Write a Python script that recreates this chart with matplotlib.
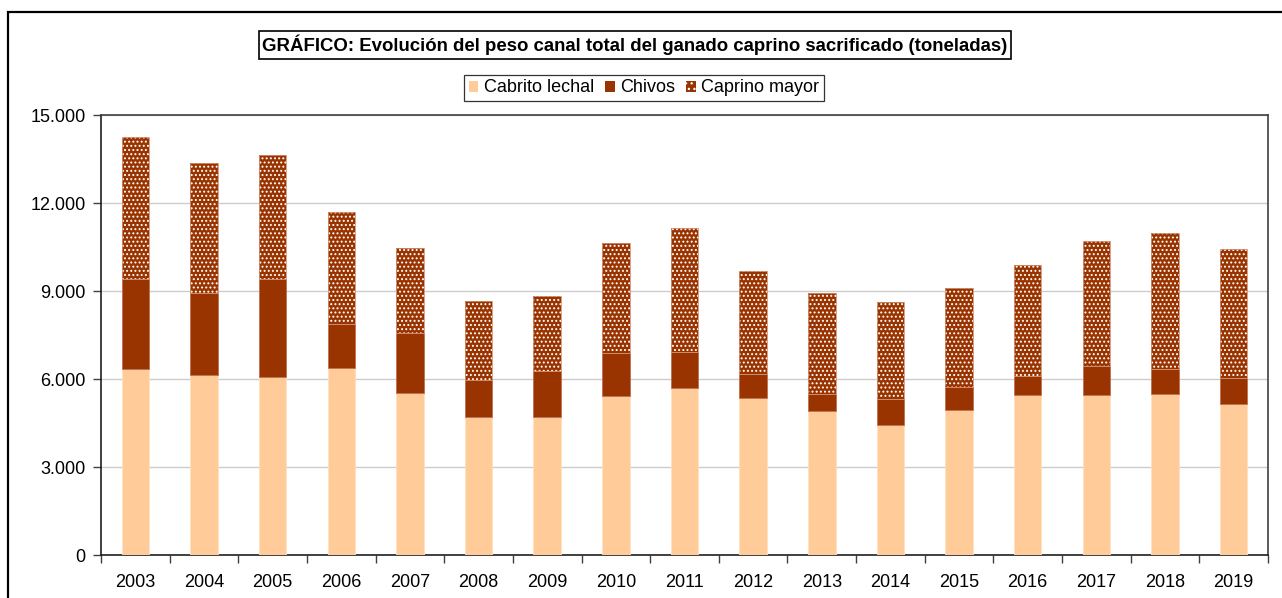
import matplotlib
matplotlib.use("Agg")
import matplotlib.pyplot as plt
from matplotlib.patches import Rectangle, Patch
from matplotlib.ticker import FuncFormatter, FixedLocator
import numpy as np

years = ["2003", "2004", "2005", "2006", "2007", "2008", "2009", "2010", "2011",
         "2012", "2013", "2014", "2015", "2016", "2017", "2018", "2019"]
cabrito = [6350, 6120, 6070, 6360, 5530, 4705, 4705, 5430, 5690, 5345, 4900, 4440,
           4943, 5450, 5455, 5500, 5136]
chivos_top = [9405, 8915, 9395, 7860, 7575, 5972, 6273, 6900, 6930, 6185, 5480, 5325,
              5735, 6110, 6450, 6352, 6045]
total = [14255, 13380, 13630, 11693, 10450, 8659, 8830, 10620, 11140, 9690, 8932, 8625,
         9110, 9900, 10720, 10970, 10420]
chivos = [t - c for t, c in zip(chivos_top, cabrito)]
caprino = [t - c for t, c in zip(total, chivos_top)]

plt.rcParams['font.family'] = ['Liberation Sans', 'DejaVu Sans']
plt.rcParams['hatch.linewidth'] = 0.9

fig = plt.figure(figsize=(12.82, 5.98), dpi=100)
ax = fig.add_axes([101/1282, 1-555/598, (1268-101)/1282, (555-115)/598])

x = np.arange(len(years))
w = 0.4
c_light = '#FFCC99'
c_dark = '#993300'
ax.bar(x, cabrito, w, color=c_light, edgecolor='#ffe0c0', linewidth=0.6, zorder=3)
ax.bar(x, chivos, w, bottom=cabrito, color=c_dark, edgecolor='#c07050', linewidth=0.6, zorder=3)
ax.bar(x, caprino, w, bottom=chivos_top, color=c_dark, edgecolor='white',
       hatch='....', linewidth=0, zorder=3)
ax.bar(x, caprino, w, bottom=chivos_top, color='none', edgecolor='#d09070',
       linewidth=0.6, zorder=4)

ax.set_xlim(-0.5, len(years) - 0.5)
ax.set_ylim(0, 15000)
ax.yaxis.set_major_locator(FixedLocator([0, 3000, 6000, 9000, 12000, 15000]))
ax.yaxis.set_major_formatter(FuncFormatter(lambda v, p: f"{int(v):,}".replace(",", ".")))
ax.set_xticks(x)
ax.set_xticklabels(years)
ax.xaxis.set_minor_locator(FixedLocator(np.arange(-0.5, len(years), 1.0)))
ax.tick_params(axis='x', which='major', length=0, labelsize=13, pad=14, colors='black')
ax.tick_params(axis='x', which='minor', length=6, width=1, color='#404040', direction='out')
ax.tick_params(axis='y', length=6, width=1, color='#404040', labelsize=13, pad=5)

ax.grid(axis='y', color='#cccccc', linewidth=1, zorder=0)
ax.set_axisbelow(True)
for s in ax.spines.values():
    s.set_color('#404040')
    s.set_linewidth(1.2)
ax.spines['left'].set_color('#202020')
ax.spines['bottom'].set_color('#202020')

# outer frame (cropped chart area)
fig.add_artist(Rectangle((8/1282, -0.1), 1.2, (1-12/598) + 0.1, transform=fig.transFigure,
                         fill=False, edgecolor='black', linewidth=1.6, clip_on=False))

fig.text(635/1282, 1-45/598, "GRÁFICO: Evolución del peso canal total del ganado caprino sacrificado (toneladas)",
         ha='center', va='center', fontsize=13.4, fontweight='bold',
         bbox=dict(boxstyle='square,pad=0.2', facecolor='white', edgecolor='black', linewidth=1.2))

handles = [Patch(facecolor=c_light, edgecolor='none'),
           Patch(facecolor=c_dark, edgecolor='none'),
           Patch(facecolor=c_dark, edgecolor='white', hatch='...', linewidth=0)]
leg = fig.legend(handles, ["Cabrito lechal", "Chivos", "Caprino mayor"],
                 loc='center', bbox_to_anchor=(644/1282, 1-88/598), ncol=3,
                 fontsize=13, frameon=True, fancybox=False, edgecolor='black',
                 handlelength=0.55, handleheight=0.55, handletextpad=0.3, columnspacing=0.6,
                 borderpad=0.25, borderaxespad=0)
leg.get_frame().set_linewidth(0.9)

fig.savefig("out.png", dpi=100)
